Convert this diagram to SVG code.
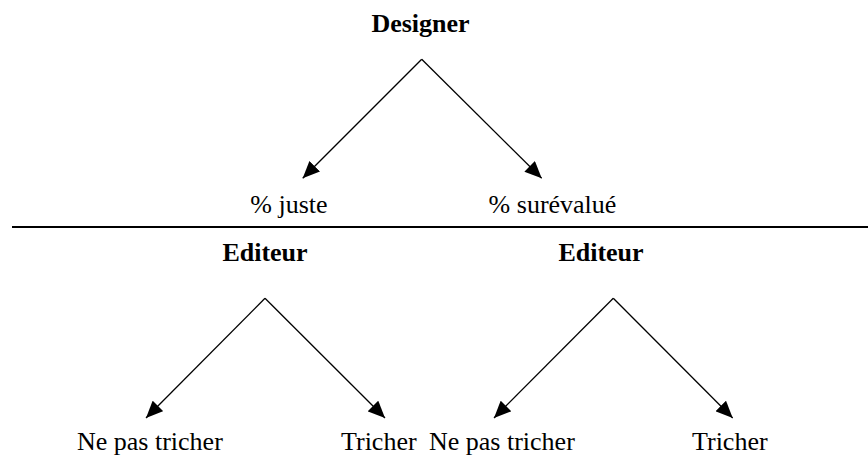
<svg xmlns="http://www.w3.org/2000/svg" width="868" height="456" viewBox="0 0 868 456">
<style>
text{font-family:"Liberation Serif","Times New Roman",serif;font-size:26px;fill:#000}
.b{font-weight:bold}
.e{stroke:#000;stroke-width:1.3;fill:none;marker-end:url(#ah)}
</style>
<defs>
<marker id="ah" markerUnits="userSpaceOnUse" markerWidth="17" markerHeight="15" refX="17" refY="7.5" orient="auto" viewBox="0 0 17 15">
<path d="M0,0 L17,7.5 L0,15 z" fill="#000"/>
</marker>
</defs>
<rect width="868" height="456" fill="#fff"/>
<g id="connectors">
<path class="e" d="M421.7,59.3 L302.7,178.3"/>
<path class="e" d="M421.7,59.3 L541.7,178.3"/>
<path class="e" d="M265,298.3 L146,418"/>
<path class="e" d="M265,298.3 L385,418"/>
<path class="e" d="M613.3,298.3 L494,418"/>
<path class="e" d="M613.3,298.3 L732.7,418"/>
</g>
<line id="divider" x1="12" y1="227" x2="868" y2="227" stroke="#000" stroke-width="2"/>
<g id="designer"><text class="b" x="420.5" y="32" text-anchor="middle">Designer</text></g>
<g id="juste"><text x="289" y="213" text-anchor="middle">% juste</text></g>
<g id="surevalue"><text x="552.5" y="213" text-anchor="middle">% surévalué</text></g>
<g id="editeur1"><text class="b" x="265" y="261" text-anchor="middle">Editeur</text></g>
<g id="editeur2"><text class="b" x="601" y="261" text-anchor="middle">Editeur</text></g>
<g id="nepas1"><text x="77" y="450">Ne pas tricher</text></g>
<g id="tricher1"><text x="341" y="450">Tricher</text></g>
<g id="nepas2"><text x="429" y="450">Ne pas tricher</text></g>
<g id="tricher2"><text x="692" y="450">Tricher</text></g>
</svg>
